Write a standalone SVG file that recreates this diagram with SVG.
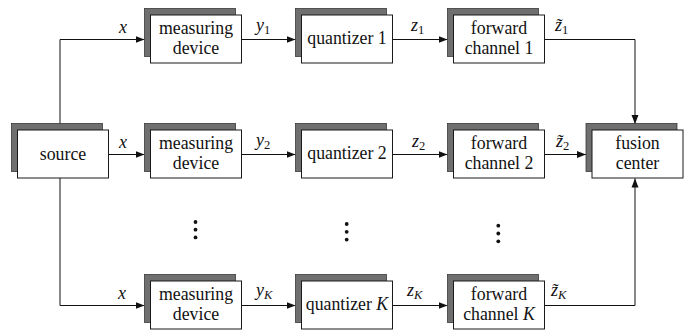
<svg xmlns="http://www.w3.org/2000/svg" width="697" height="336" viewBox="0 0 697 336" font-family="Liberation Serif, DejaVu Serif, serif">
<defs>
<style>
.sh{fill:#6f6f6f;stroke:#3a3a3a;stroke-width:0.8}
.fr{fill:#fff;stroke:#1a1a1a;stroke-width:1}
.t{font-size:17.8px;fill:#111;text-anchor:middle}
.m{font-size:18px;font-style:italic;fill:#111}
.s{font-size:12.5px}
.c{fill:none;stroke:#111;stroke-width:1}
</style>
<marker id="ah" markerWidth="10" markerHeight="8" refX="9" refY="4" orient="auto" markerUnits="userSpaceOnUse">
<path d="M0,0.5 L9,4 L0,7.5 Z" fill="#111"/>
</marker>
</defs>
<rect width="697" height="336" fill="#fff"/>

<g id="connectors" class="c">
<path d="M60,124 V39.5 H144.5" marker-end="url(#ah)"/>
<path d="M108.5,154.5 H144.5" marker-end="url(#ah)"/>
<path d="M60,178 V305.5 H144.5" marker-end="url(#ah)"/>
<path d="M241.5,39.5 H295.5" marker-end="url(#ah)"/>
<path d="M241.5,154.5 H295.5" marker-end="url(#ah)"/>
<path d="M241.5,305.5 H295.5" marker-end="url(#ah)"/>
<path d="M392.5,39.5 H447.5" marker-end="url(#ah)"/>
<path d="M392.5,154.5 H447.5" marker-end="url(#ah)"/>
<path d="M392.5,305.5 H447.5" marker-end="url(#ah)"/>
<path d="M544.5,39.5 H635 V124" marker-end="url(#ah)"/>
<path d="M544.5,154.5 H586" marker-end="url(#ah)"/>
<path d="M544.5,305.5 H635 V178.5" marker-end="url(#ah)"/>
</g>

<g id="labels">
<text class="m" x="119" y="33">x</text>
<text class="m" x="119" y="148">x</text>
<text class="m" x="118" y="299">x</text>
<text class="m" x="256" y="31">y<tspan class="s" font-style="normal" dy="3">1</tspan></text>
<text class="m" x="256" y="146">y<tspan class="s" font-style="normal" dy="3">2</tspan></text>
<text class="m" x="256" y="296">y<tspan class="s" dy="3">K</tspan></text>
<text class="m" x="411" y="31">z<tspan class="s" font-style="normal" dy="3">1</tspan></text>
<text class="m" x="412" y="147">z<tspan class="s" font-style="normal" dy="3">2</tspan></text>
<text class="m" x="407" y="296">z<tspan class="s" dy="3">K</tspan></text>
<text class="m" x="555" y="31">z̃<tspan class="s" font-style="normal" dy="3">1</tspan></text>
<text class="m" x="556" y="147">z̃<tspan class="s" font-style="normal" dy="3">2</tspan></text>
<text class="m" x="551" y="296">z̃<tspan class="s" dy="3">K</tspan></text>
</g>

<g id="source">
<rect class="sh" x="11.5" y="123.5" width="91" height="48"/>
<rect class="fr" x="17.5" y="130" width="91" height="48"/>
<text class="t" x="63" y="160">source</text>
</g>

<g id="measuring1">
<rect class="sh" x="144.5" y="8.5" width="91" height="48"/>
<rect class="fr" x="150.5" y="15" width="91" height="48"/>
<text class="t" x="196" y="34">measuring</text>
<text class="t" x="196" y="54">device</text>
</g>
<g id="measuring2">
<rect class="sh" x="144.5" y="123.5" width="91" height="48"/>
<rect class="fr" x="150.5" y="130" width="91" height="48"/>
<text class="t" x="196" y="149">measuring</text>
<text class="t" x="196" y="169">device</text>
</g>
<g id="measuringK">
<rect class="sh" x="144.5" y="274.5" width="91" height="48"/>
<rect class="fr" x="150.5" y="281" width="91" height="48"/>
<text class="t" x="196" y="300">measuring</text>
<text class="t" x="196" y="320">device</text>
</g>

<g id="quantizer1">
<rect class="sh" x="295.5" y="8.5" width="91" height="48"/>
<rect class="fr" x="301.5" y="15" width="91" height="48"/>
<text class="t" x="347" y="44">quantizer 1</text>
</g>
<g id="quantizer2">
<rect class="sh" x="295.5" y="123.5" width="91" height="48"/>
<rect class="fr" x="301.5" y="130" width="91" height="48"/>
<text class="t" x="347" y="159">quantizer 2</text>
</g>
<g id="quantizerK">
<rect class="sh" x="295.5" y="274.5" width="91" height="48"/>
<rect class="fr" x="301.5" y="281" width="91" height="48"/>
<text class="t" x="347" y="310">quantizer <tspan font-style="italic">K</tspan></text>
</g>

<g id="forward1">
<rect class="sh" x="447.5" y="8.5" width="91" height="48"/>
<rect class="fr" x="453.5" y="15" width="91" height="48"/>
<text class="t" x="499" y="34">forward</text>
<text class="t" x="499" y="54">channel 1</text>
</g>
<g id="forward2">
<rect class="sh" x="447.5" y="123.5" width="91" height="48"/>
<rect class="fr" x="453.5" y="130" width="91" height="48"/>
<text class="t" x="499" y="149">forward</text>
<text class="t" x="499" y="169">channel 2</text>
</g>
<g id="forwardK">
<rect class="sh" x="447.5" y="274.5" width="91" height="48"/>
<rect class="fr" x="453.5" y="281" width="91" height="48"/>
<text class="t" x="499" y="300">forward</text>
<text class="t" x="499" y="320">channel <tspan font-style="italic">K</tspan></text>
</g>

<g id="fusion">
<rect class="sh" x="586" y="123.5" width="91" height="48"/>
<rect class="fr" x="592" y="130" width="91" height="48"/>
<text class="t" x="637.5" y="149">fusion</text>
<text class="t" x="637.5" y="169">center</text>
</g>

<g id="dots" fill="#111">
<circle cx="195.5" cy="222" r="1.9"/><circle cx="195.5" cy="229.7" r="1.9"/><circle cx="195.5" cy="237.4" r="1.9"/>
<circle cx="346.7" cy="224" r="1.9"/><circle cx="346.7" cy="231.8" r="1.9"/><circle cx="346.7" cy="239.6" r="1.9"/>
<circle cx="498.3" cy="225.7" r="1.9"/><circle cx="498.3" cy="233.5" r="1.9"/><circle cx="498.3" cy="241.3" r="1.9"/>
</g>
</svg>
